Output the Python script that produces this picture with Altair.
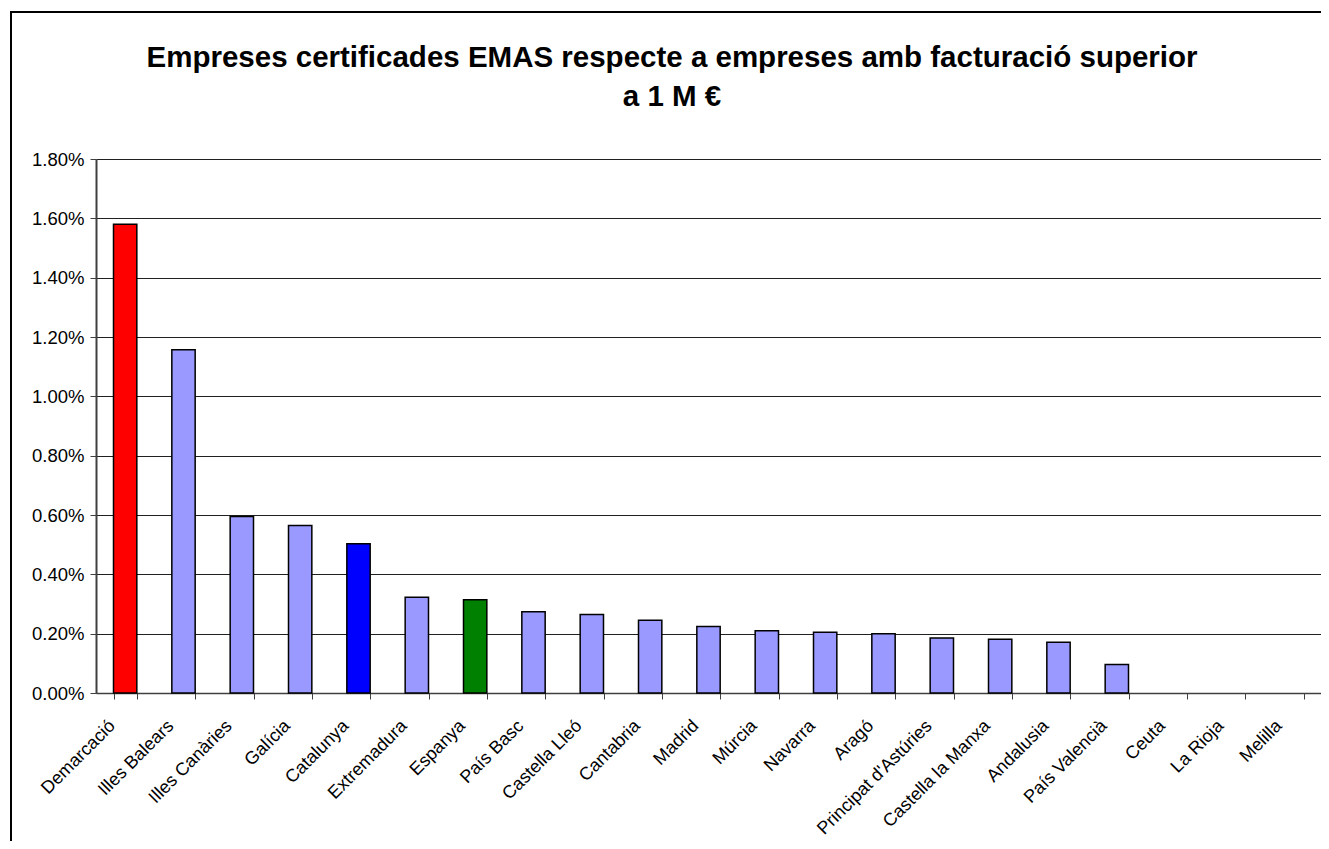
import altair as alt
import pandas as pd

regions = ["Demarcació", "Illes Balears", "Illes Canàries", "Galícia", "Catalunya",
           "Extremadura", "Espanya", "País Basc", "Castella Lleó", "Cantabria",
           "Madrid", "Múrcia", "Navarra", "Aragó", "Principat d'Astúries",
           "Castella la Manxa", "Andalusia", "País Valencià", "Ceuta", "La Rioja", "Melilla"]
values = [0.0158, 0.01157, 0.00595, 0.00565, 0.00503,
          0.00323, 0.00314, 0.00274, 0.00265, 0.00245,
          0.00224, 0.00210, 0.00205, 0.00200, 0.00185,
          0.00181, 0.00171, 0.00096, 0.0, 0.0, 0.0]
groups = ["Demarcació", "Altres", "Altres", "Altres", "Catalunya",
          "Altres", "Espanya", "Altres", "Altres", "Altres",
          "Altres", "Altres", "Altres", "Altres", "Altres",
          "Altres", "Altres", "Altres", "Altres", "Altres", "Altres"]
group_names = ["Demarcació", "Catalunya", "Espanya", "Altres"]
group_colors = ["#FF0000", "#0000FF", "#008000", "#9999FF"]
y_ticks = [0.0, 0.002, 0.004, 0.006, 0.008, 0.010, 0.012, 0.014, 0.016, 0.018]
title_lines = ["Empreses certificades EMAS respecte a empreses amb facturació superior", "a 1 M €"]

df = pd.DataFrame({"regio": regions, "valor": values, "grup": groups})

W, H = 1225, 534

bars = alt.Chart(df).mark_bar(stroke="#000000", strokeWidth=1.5).encode(
    x=alt.X("regio:N", sort=regions, title=None,
            scale=alt.Scale(paddingInner=0.6, paddingOuter=0.3),
            axis=alt.Axis(labelAngle=-45, labelAlign="right", labelBaseline="middle",
                          labelFont="Liberation Sans", labelFontSize=18, labelColor="#000000",
                          labelPadding=24, labelOffset=-13, labelOverlap=False, labelBound=False,
                          tickBand="extent", tickSize=6, tickColor="#404040", tickWidth=1,
                          domainColor="#404040", domainWidth=1.5, grid=False)),
    y=alt.Y("valor:Q", title=None,
            scale=alt.Scale(domain=[0, 0.018], nice=False),
            axis=alt.Axis(format=".2%", values=y_ticks, labelOverlap=False,
                          labelFont="Liberation Sans", labelFontSize=18.5, labelColor="#000000",
                          labelPadding=6, tickSize=6, tickColor="#404040",
                          domainColor="#404040", domainWidth=2,
                          grid=True, gridColor="#202020", gridWidth=1)),
    color=alt.Color("grup:N", scale=alt.Scale(domain=group_names, range=group_colors), legend=None),
    strokeOpacity=alt.condition("datum.valor > 0", alt.value(1), alt.value(0)),
)

frame = alt.Chart(df).mark_rect(filled=False, stroke="#000000", strokeWidth=2).encode(
    x=alt.value(-85), x2=alt.value(1260), y=alt.value(-147), y2=alt.value(720)
)

t1 = pd.DataFrame({"t": [title_lines[0]]})
t2 = pd.DataFrame({"t": [title_lines[1]]})
title_style = dict(font="Liberation Sans", fontSize=29.5, fontWeight="bold", color="#000000",
                   align="center", baseline="alphabetic")
title1 = alt.Chart(t1).mark_text(**title_style).encode(
    text="t:N", x=alt.value(576), y=alt.value(-92))
title2 = alt.Chart(t2).mark_text(**title_style).encode(
    text="t:N", x=alt.value(576), y=alt.value(-53))

chart = alt.layer(frame, bars, title1, title2).properties(
    width=W, height=H,
    autosize=alt.AutoSizeParams(type="none"),
    padding={"left": 88, "top": 151, "right": 0, "bottom": 148},
).configure_view(stroke="#808080", strokeWidth=1.5).configure(background="#FFFFFF")

chart.save("out.html", embed_options={"renderer": "svg", "actions": False})
